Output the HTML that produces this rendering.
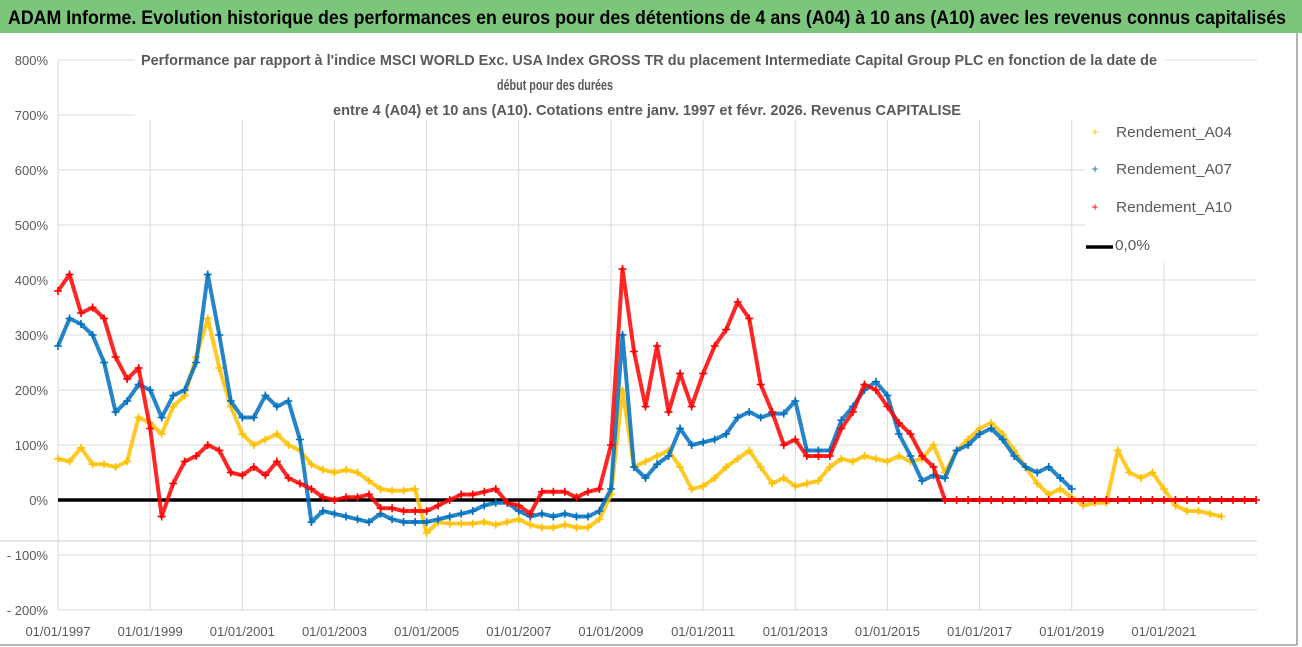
<!DOCTYPE html>
<html><head><meta charset="utf-8">
<style>
html,body{margin:0;padding:0;background:#fff;}
svg{display:block;font-family:"Liberation Sans",sans-serif;}
</style></head>
<body>
<svg id="chart" width="1302" height="647" viewBox="0 0 1302 647" xmlns="http://www.w3.org/2000/svg">
  <rect x="0" y="0" width="1302" height="647" fill="#fff"/>
  <rect x="0" y="0" width="1302" height="33" fill="#7cc67c"/>
  <text x="8" y="24" font-size="19" font-weight="bold" fill="#000" textLength="1278" lengthAdjust="spacingAndGlyphs">ADAM Informe. Evolution historique des performances en euros pour des détentions de 4 ans (A04) à 10 ans (A10) avec les revenus connus capitalisés</text>
  <line x1="1297" y1="33" x2="1297" y2="645" stroke="#9a9a9a" stroke-width="1.5"/>
  <line x1="0" y1="645" x2="1297" y2="645" stroke="#9a9a9a" stroke-width="1.5"/>
  <line x1="0" y1="541" x2="1257" y2="541" stroke="#c8c8c8" stroke-width="1"/>
  <g id="grid"></g>
  <rect x="135" y="44" width="1030" height="76" fill="#fff"/>
  <rect x="1085" y="113" width="175" height="150" fill="#fff"/>
  <g id="axes"></g>
  <g id="series"></g>
  <g font-size="15" font-weight="bold" fill="#595959">
    <text x="141" y="65" textLength="1016" lengthAdjust="spacingAndGlyphs">Performance par rapport à l'indice MSCI WORLD Exc. USA Index GROSS TR  du placement Intermediate Capital Group PLC en fonction de la date de</text>
    <text x="497" y="90" textLength="116" lengthAdjust="spacingAndGlyphs">début pour des durées</text>
    <text x="333" y="115" textLength="628" lengthAdjust="spacingAndGlyphs">entre 4 (A04) et 10 ans (A10).  Cotations entre janv. 1997 et févr. 2026. Revenus CAPITALISE</text>
  </g>
  <g font-size="15" fill="#595959">
    <g>
      <text x="1095" y="136" font-size="12" fill="#ffc000" text-anchor="middle">+</text>
      <text x="1116" y="137" textLength="116" lengthAdjust="spacingAndGlyphs">Rendement_A04</text>
    </g>
    <g>
      <text x="1095" y="173" font-size="12" fill="#0070c0" text-anchor="middle">+</text>
      <text x="1116" y="174" textLength="116" lengthAdjust="spacingAndGlyphs">Rendement_A07</text>
    </g>
    <g>
      <text x="1095" y="211" font-size="12" fill="#ff0000" text-anchor="middle">+</text>
      <text x="1116" y="212" textLength="116" lengthAdjust="spacingAndGlyphs">Rendement_A10</text>
    </g>
    <g>
      <line x1="1086" y1="247" x2="1113" y2="247" stroke="#000" stroke-width="3.5"/>
      <text x="1115" y="250" textLength="35" lengthAdjust="spacingAndGlyphs">0,0%</text>
    </g>
  </g>
</svg>
<script>
const startYear = 1997;
const stepYear = 0.25;
const yTicks = [800,700,600,500,400,300,200,100,0,-100,-200];
const yTickLabels = ["800%","700%","600%","500%","400%","300%","200%","100%","0%","- 100%","- 200%"];
const xTickYears = [1997,1999,2001,2003,2005,2007,2009,2011,2013,2015,2017,2019,2021];
const xTickLabels = ["01/01/1997","01/01/1999","01/01/2001","01/01/2003","01/01/2005","01/01/2007","01/01/2009","01/01/2011","01/01/2013","01/01/2015","01/01/2017","01/01/2019","01/01/2021"];
const a04 = [75,70,95,65, 65,60,70,150, 140,120,170,190, 260,330,240,170, 120,100,110,120, 100,90,65,55,
  50,55,50,35, 20,17,17,20, -60,-40,-43,-43, -43,-40,-45,-40, -35,-45,-50,-50, -45,-50,-50,-35,
  10,200,60,70, 80,90,60,20, 25,40,60,75, 90,60,30,40, 25,30,35,60, 75,70,80,75, 70,80,70,75,
  100,50,90,110, 130,140,120,90, 60,30,10,20, 5,-10,-5,-5, 90,50,40,50, 20,-10,-20,-20, -25,-30];
const a07 = [280,330,320,300, 250,160,180,210, 200,150,190,200, 250,410,300,180, 150,150,190,170,
  180,110,-40,-20, -25,-30,-35,-40, -25,-35,-40,-40, -40,-35,-30,-25, -20,-10,-5,-5, -20,-30,-25,-30,
  -25,-30,-30,-20, 20,300,60,40, 65,80,130,100, 105,110,120,150, 160,150,157,157, 180,90,90,90,
  145,170,200,215, 190,120,80,35, 45,40,90,100, 120,130,110,80, 60,50,60,40, 20];
const a10 = [380,410,340,350, 330,260,220,240, 130,-30,30,70, 80,100,90,50, 45,60,45,70, 40,30,20,5,
  0,5,5,10, -15,-15,-20,-20, -20,-10,0,10, 10,15,20,-5, -10,-25,15,15, 15,5,15,20,
  100,420,270,170, 280,160,230,170, 230,280,310,360, 330,210,160,100, 110,80,80,80,
  130,160,210,200, 170,140,120,80, 60,0,0,0, 0,0,0,0, 0,0,0,0, 0,0,0,0, 0,0,0,0, 0,0,0,0, 0,0,0,0, 0];

const NS = "http://www.w3.org/2000/svg";
const plotLeft = 58, plotRight = 1257, yTop = 60, yBottom = 610;
const pxPerYear = 46.08;
function xScale(year){ return plotLeft + (year - 1997) * pxPerYear; }
function yScale(v){ return 500 - v * 0.55; }
function mk(tag, attrs, parent){
  const el = document.createElementNS(NS, tag);
  for (const k in attrs) el.setAttribute(k, attrs[k]);
  parent.appendChild(el);
  return el;
}
const grid = document.getElementById('grid');
const axes = document.getElementById('axes');
const series = document.getElementById('series');

yTicks.forEach((v, i) => {
  const y = yScale(v);
  const l = mk('line', {x1: plotLeft, y1: y, x2: plotRight, y2: y, stroke: '#d9d9d9', 'stroke-width': 1}, grid);
  
  
  const t = mk('text', {x: 48, y: y + 5, 'font-size': 13, fill: '#595959', 'text-anchor': 'end'}, axes);
  t.textContent = yTickLabels[i];
  
  
});
xTickYears.forEach((yr, i) => {
  const x = xScale(yr);
  const l = mk('line', {x1: x, y1: yTop, x2: x, y2: yBottom, stroke: '#d9d9d9', 'stroke-width': 1}, grid);
  
  
  const t = mk('text', {x: x, y: 636, 'font-size': 13, fill: '#595959', 'text-anchor': 'middle'}, axes);
  t.textContent = xTickLabels[i];
  
  
});
const yAxis = mk('line', {x1: plotLeft, y1: yTop, x2: plotLeft, y2: yBottom, stroke: '#d9d9d9', 'stroke-width': 1}, axes);


const zero = mk('line', {x1: plotLeft, y1: yScale(0), x2: plotRight, y2: yScale(0), stroke: '#000', 'stroke-width': 3.5}, series);



function drawSeries(values, color, name){
  const g = mk('g', {}, series);
  
  
  const pts = values.map((v, i) => xScale(startYear + i * stepYear).toFixed(1) + ',' + yScale(v).toFixed(1)).join(' ');
  const pl = mk('polyline', {points: pts, fill: 'none', stroke: color, 'stroke-width': 4, 'stroke-linejoin': 'round', 'stroke-opacity': 0.85}, g);
  
  
  values.forEach((v, i) => {
    const x = xScale(startYear + i * stepYear), y = yScale(v);
    const p = mk('path', {d: `M${x-4},${y}H${x+4}M${x},${y-4}V${y+4}`, stroke: color, 'stroke-width': 1.6}, g);
    
    
  });
}
drawSeries(a04, '#ffc000', 'series-a04');
drawSeries(a07, '#0070c0', 'series-a07');
drawSeries(a10, '#ff0000', 'series-a10');
</script>
</body></html>
